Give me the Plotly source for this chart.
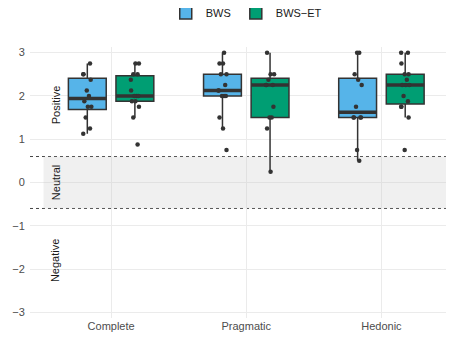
import numpy as np
import plotly.graph_objects as go

categories = ["Complete", "Pragmatic", "Hedonic"]
series_names = ["BWS", "BWS\u2212ET"]

bws_complete = [1.125, 1.25, 1.5, 1.75, 1.75, 1.875, 2.0, 2.125, 2.375, 2.5, 2.5, 2.75]
bws_pragmatic = [0.75, 1.25, 1.5, 2.0, 2.0, 2.0, 2.125, 2.125, 2.25, 2.5, 2.5, 2.75, 2.75, 3.0]
bws_hedonic = [0.5, 0.75, 1.5, 1.5, 1.5, 1.5, 1.75, 2.25, 2.375, 2.5, 3.0, 3.0]

bwset_complete = [0.875, 1.5, 1.75, 1.875, 1.875, 2.0, 2.0, 2.0, 2.125, 2.375, 2.5, 2.5, 2.75, 2.75]
bwset_pragmatic = [0.25, 1.25, 1.5, 1.5, 1.75, 2.25, 2.25, 2.25, 2.375, 2.5, 2.5, 3.0]
bwset_hedonic = [0.75, 1.5, 1.75, 1.75, 1.875, 2.0, 2.25, 2.25, 2.25, 2.375, 2.5, 2.5, 2.75, 3.0, 3.0]

region_labels = ["Positive", "Neutral", "Negative"]
region_label_y = [1.8, 0, -1.8]
neutral_band = [-0.6, 0.6]
y_ticks = [-3, -2, -1, 0, 1, 2, 3]

colors = ["#56B4E9", "#009E73"]
data = [[bws_complete, bws_pragmatic, bws_hedonic],
        [bwset_complete, bwset_pragmatic, bwset_hedonic]]
dodge = [-0.176, 0.176]
box_w = 0.28
jit = [-0.03, 0.02, -0.012, 0.03, 0.004, -0.022, 0.012, -0.004, 0.025, -0.028]

fig = go.Figure()

fig.add_shape(type="rect", xref="x", yref="y", x0=-0.5, x1=2.5,
              y0=neutral_band[0], y1=neutral_band[1],
              fillcolor="rgba(200,200,200,0.28)", line_width=0, layer="between")
for yv in neutral_band:
    fig.add_shape(type="line", xref="paper", yref="y", x0=0, x1=1, y0=yv, y1=yv,
                  line=dict(color="#444444", width=1, dash="3px,3px"), layer="between")


def stats(v):
    a = np.array(v, dtype=float)
    q1, med, q3 = np.percentile(a, [25, 50, 75])
    iqr = q3 - q1
    lo = a[a >= q1 - 1.5 * iqr].min()
    hi = a[a <= q3 + 1.5 * iqr].max()
    return q1, med, q3, lo, hi


for s in range(2):
    xs, q1s, meds, q3s, los, his = [], [], [], [], [], []
    for c in range(3):
        q1, med, q3, lo, hi = stats(data[s][c])
        xs.append(c + dodge[s]); q1s.append(q1); meds.append(med)
        q3s.append(q3); los.append(lo); his.append(hi)
    fig.add_trace(go.Box(x=xs, q1=q1s, median=meds, q3=q3s, lowerfence=los,
                         upperfence=his, width=box_w, name=series_names[s],
                         fillcolor=colors[s], line=dict(color="#333333", width=1.5),
                         whiskerwidth=0, boxpoints=False, legendgroup=series_names[s]))
    mx, my = [], []
    for c in range(3):
        mx += [xs[c] - box_w / 2, xs[c] + box_w / 2, None]
        my += [meds[c], meds[c], None]
    fig.add_trace(go.Scatter(x=mx, y=my, mode="lines", line=dict(color="#333333", width=3.5),
                             showlegend=False, hoverinfo="skip"))

for s in range(2):
    px, py = [], []
    for c in range(3):
        for i, v in enumerate(data[s][c]):
            px.append(c + dodge[s] + jit[(i + 3 * c + s) % len(jit)])
            py.append(v)
    fig.add_trace(go.Scatter(x=px, y=py, mode="markers",
                             marker=dict(color="#333333", size=4.5),
                             showlegend=False, hoverinfo="skip"))

for lab, yv in zip(region_labels, region_label_y):
    fig.add_annotation(x=-0.41, y=yv, xref="x", yref="y", text=lab, textangle=-90,
                       showarrow=False, font=dict(size=11, color="#1a1a1a"))

# page body adds an 8px offset, so the figure is sized to fit the visible window
fig.update_layout(
    width=446, height=329,
    margin=dict(l=22, r=0, t=0, b=19, autoexpand=False),
    paper_bgcolor="white", plot_bgcolor="white",
    font=dict(family="Liberation Sans, Arial, sans-serif", size=11, color="#4D4D4D"),
    showlegend=True,
    legend=dict(orientation="h", x=0.51, xanchor="center", y=0.984, yanchor="middle",
                font=dict(size=11, color="#1a1a1a"), traceorder="normal",
                itemwidth=30, bgcolor="rgba(0,0,0,0)"),
)
fig.update_xaxes(range=[-0.6, 2.537], tickvals=[0, 1, 2], ticktext=categories,
                 showgrid=True, gridcolor="#EBEBEB", gridwidth=1, zeroline=False,
                 showline=False, ticks="", automargin=False,
                 tickfont=dict(size=11, color="#4D4D4D"))
fig.update_yaxes(range=[-3.13, 3.13], tickvals=y_ticks, domain=[0, 271 / 310],
                 showgrid=True, gridcolor="#EBEBEB", gridwidth=1, zeroline=False,
                 showline=False, ticks="outside", ticklen=2, tickcolor="rgba(0,0,0,0)",
                 automargin=False, tickfont=dict(size=11, color="#4D4D4D"))

fig.write_html("out.html")
